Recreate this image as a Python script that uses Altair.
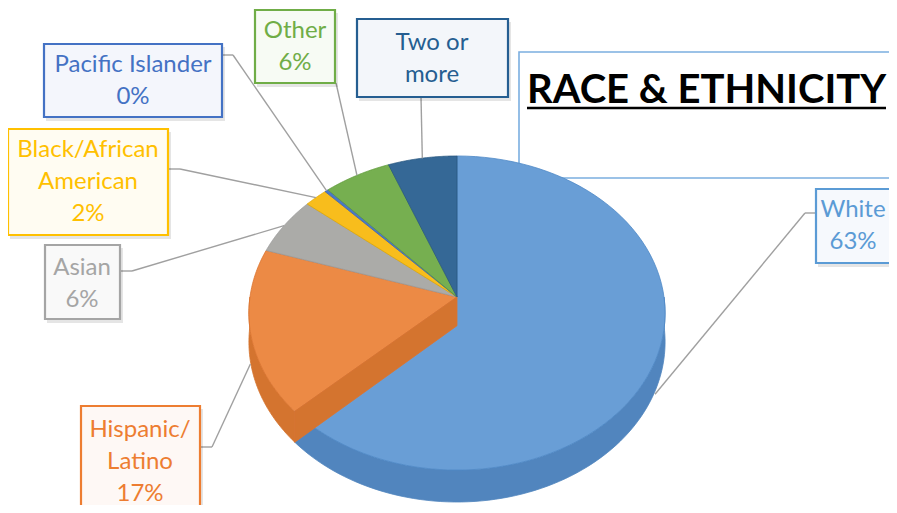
import altair as alt
import pandas as pd

# ---------------- data ----------------
categories = ["White", "Hispanic/Latino", "Asian", "Black/African American",
              "Pacific Islander", "Other", "Two or more"]
values = [63.0, 17.0, 6.0, 2.0, 0.3, 5.8, 5.9]
label_names = ["White", "Hispanic/\nLatino", "Asian", "Black/African\nAmerican",
               "Pacific Islander", "Other", "Two or\nmore"]
show_pct = [True, True, True, True, True, True, False]
title_text = "RACE & ETHNICITY"

# ---------------- styles ----------------
top_colors = ["#699ED6", "#EC8A45", "#ABABA8", "#F8BD1C", "#4A78C6", "#76AF50", "#356896"]
edge_colors = ["#4F89C6", "#DA7430", "#9A9A9A", "#E0A800", "#3D66B0", "#5E9A3A", "#2A5880"]
side_colors = ["#5185BE", "#D4742F", "#8E8E8E", "#D9A200", "#3A62A8", "#5A8E3A", "#244C72"]
label_colors = ["#5B9BD5", "#ED7D31", "#A5A5A5", "#FFC000", "#4472C4", "#70AD47", "#255E91"]
box_fills = ["#F6F9FD", "#FEF8F5", "#F9F9F9", "#FFFCF2", "#F4F6FC", "#F7FBF4", "#F3F6FA"]
FONT = "Lato"

# ---------------- layout (page pixels) ----------------
box_x1 = [816, 81, 45, 8, 44, 255, 357]
box_x2 = [905, 200, 120, 168, 222, 335, 508]
box_y1 = [189, 406, 245, 129, 44, 10, 19]
box_y2 = [263, 530, 319, 235, 117, 83, 97]
text_x = [853, 140, 82, 88, 133, 295, 432]
text_y = [210, 430, 268, 150, 65, 31, 43]   # centre of first text line
lead_x0 = [816, 200, 120, 168, 222, 336, 421]
lead_y0 = [213, 447, 271, 169, 55, 83, 97]
lead_x1 = [805, 212, 132, 180, 233, 336, 421]
lead_y1 = [213, 447, 271, 169, 55, 83, 97]

# pie geometry (perspective ellipse)
CX, CY, B, A, K, D, N = 457, 297, 207, 155.4, 0.102, 28.7, 80

labels = [n + (f"\n{round(v):.0f}%" if s else "") for n, v, s in zip(label_names, values, show_pct)]

df = pd.DataFrame({
    "k": list(range(len(categories))),
    "category": categories,
    "value": values,
    "label": labels,
    "top": top_colors,
    "edge": edge_colors,
    "side": side_colors,
    "lcol": label_colors,
    "bfill": box_fills,
    "bx1": box_x1, "bx2": box_x2, "by1": box_y1, "by2": box_y2,
    "tx": text_x, "ty": text_y,
    "lx0": lead_x0, "ly0": lead_y0, "lx1": lead_x1, "ly1": lead_y1,
})

xs = alt.Scale(domain=[8, 889], nice=False, zero=False)
ys = alt.Scale(domain=[8, 505], reverse=True, nice=False, zero=False)


def X(f):
    return alt.X(f, scale=xs, axis=None)


def Y(f):
    return alt.Y(f, scale=ys, axis=None)


base = (
    alt.Chart(df)
    .transform_joinaggregate(total="sum(value)")
    .transform_window(cum="sum(value)", sort=[alt.SortField("k")], frame=[None, 0])
    .transform_calculate(a1="2*PI*datum.cum/datum.total")
    .transform_calculate(a0="2*PI*(datum.cum-datum.value)/datum.total")
)

# side walls (front arc)
side = (
    base.transform_calculate(lo="max(datum.a0, PI/2)")
    .transform_calculate(hi="min(datum.a1, 3*PI/2)")
    .transform_filter("datum.lo < datum.hi")
    .transform_calculate(steps=f"sequence(0, {2 * N + 2})")
    .transform_flatten(["steps"], as_=["i"])
    .transform_calculate(
        ang=f"datum.i <= {N} ? datum.lo + datum.i/{N}*(datum.hi-datum.lo) : datum.hi - (datum.i-{N + 1})/{N}*(datum.hi-datum.lo)")
    .transform_calculate(dd=f"datum.i <= {N} ? 0 : {D}")
    .transform_calculate(den=f"1+{K}*cos(datum.ang)")
    .transform_calculate(px=f"{CX}+{B}*sin(datum.ang)/datum.den")
    .transform_calculate(py=f"{CY}-{A}*cos(datum.ang)/datum.den + datum.dd/datum.den")
    .mark_line(interpolate="linear-closed", strokeWidth=0.8)
    .encode(x=X("px:Q"), y=Y("py:Q"), detail="category:N", order="i:Q",
            fill=alt.Fill("side:N", scale=None), stroke=alt.Stroke("side:N", scale=None))
)

# top faces
top = (
    base.transform_calculate(steps=f"sequence(0, {N + 2})")
    .transform_flatten(["steps"], as_=["i"])
    .transform_calculate(ang=f"datum.i == 0 ? 0 : datum.a0 + (datum.i-1)/{N}*(datum.a1-datum.a0)")
    .transform_calculate(r="datum.i == 0 ? 0 : 1")
    .transform_calculate(den=f"1+{K}*datum.r*cos(datum.ang)")
    .transform_calculate(px=f"{CX}+{B}*datum.r*sin(datum.ang)/datum.den")
    .transform_calculate(py=f"{CY}-{A}*datum.r*cos(datum.ang)/datum.den")
    .mark_line(interpolate="linear-closed", strokeWidth=0.8)
    .encode(x=X("px:Q"), y=Y("py:Q"), detail="category:N", order="i:Q",
            fill=alt.Fill("top:N", scale=None), stroke=alt.Stroke("edge:N", scale=None))
)

# visible cut face
wall = (
    base.transform_filter("sin(datum.a0) < 0 && cos(datum.a0) < 0")
    .transform_calculate(steps="sequence(0, 4)")
    .transform_flatten(["steps"], as_=["i"])
    .transform_calculate(r="(datum.i == 1 || datum.i == 2) ? 1 : 0")
    .transform_calculate(dd=f"datum.i >= 2 ? {D} : 0")
    .transform_calculate(den=f"1+{K}*datum.r*cos(datum.a0)")
    .transform_calculate(px=f"{CX}+{B}*datum.r*sin(datum.a0)/datum.den")
    .transform_calculate(py=f"{CY}-{A}*datum.r*cos(datum.a0)/datum.den + datum.dd/datum.den")
    .mark_line(interpolate="linear-closed", strokeWidth=0.8)
    .encode(x=X("px:Q"), y=Y("py:Q"), detail="category:N", order="i:Q",
            fill=alt.Fill("side:N", scale=None), stroke=alt.Stroke("edge:N", scale=None))
)

# leader lines
lead1 = alt.Chart(df).mark_rule(color="#A0A0A0", strokeWidth=1.4).encode(
    x=X("lx0:Q"), y=Y("ly0:Q"), x2="lx1:Q", y2="ly1:Q")
lead2 = (
    base.transform_calculate(mid="(datum.a0+datum.a1)/2")
    .transform_calculate(den=f"1+{K}*cos(datum.mid)")
    .transform_calculate(ax=f"{CX}+{B}*sin(datum.mid)/datum.den")
    .transform_calculate(ay=f"{CY}-{A}*cos(datum.mid)/datum.den + (cos(datum.mid) < 0 ? {D}*1.1/datum.den : 0)")
    .mark_rule(color="#A0A0A0", strokeWidth=1.4)
    .encode(x=X("lx1:Q"), y=Y("ly1:Q"), x2="ax:Q", y2="ay:Q")
)

# label boxes
shadow = (
    alt.Chart(df)
    .transform_calculate(sx1="datum.bx1+2", sx2="datum.bx2+3", sy1="datum.by1+3", sy2="datum.by2+4")
    .mark_rect(color="#000000", opacity=0.10)
    .encode(x=X("sx1:Q"), x2="sx2:Q", y=Y("sy1:Q"), y2="sy2:Q")
)
boxes = alt.Chart(df).mark_rect(strokeWidth=2.2).encode(
    x=X("bx1:Q"), x2="bx2:Q", y=Y("by1:Q"), y2="by2:Q",
    fill=alt.Fill("bfill:N", scale=None), stroke=alt.Stroke("lcol:N", scale=None))
texts = alt.Chart(df).mark_text(font=FONT, fontSize=24, lineBreak="\n", lineHeight=32,
                                 align="center", baseline="middle").encode(
    x=X("tx:Q"), y=Y("ty:Q"), text="label:N", color=alt.Color("lcol:N", scale=None))

# title
tdf = pd.DataFrame({"t": [title_text], "x1": [519], "x2": [905], "y1": [52], "y2": [178],
                    "tx": [527], "ty": [103], "ux2": [886], "uy": [108]})
tbox = alt.Chart(tdf).mark_rect(fill="white", stroke="#7BAEE0", strokeWidth=1.6).encode(
    x=X("x1:Q"), x2="x2:Q", y=Y("y1:Q"), y2="y2:Q")
ttext = alt.Chart(tdf).mark_text(font=FONT, fontSize=40, fontWeight="bold", align="left",
                                  baseline="alphabetic", color="black").encode(
    x=X("tx:Q"), y=Y("ty:Q"), text="t:N")
tline = alt.Chart(tdf).mark_rule(color="black", strokeWidth=2.6).encode(
    x=X("tx:Q"), x2="ux2:Q", y=Y("uy:Q"))

chart = alt.layer(
    tbox, ttext, tline, side, top, wall, lead1, lead2, shadow, boxes, texts
).properties(
    width=881, height=497, padding=0,
    autosize=alt.AutoSizeParams(type="none"),
).configure_view(stroke=None)

chart.save("out.html", embed_options={"renderer": "svg", "actions": False})
